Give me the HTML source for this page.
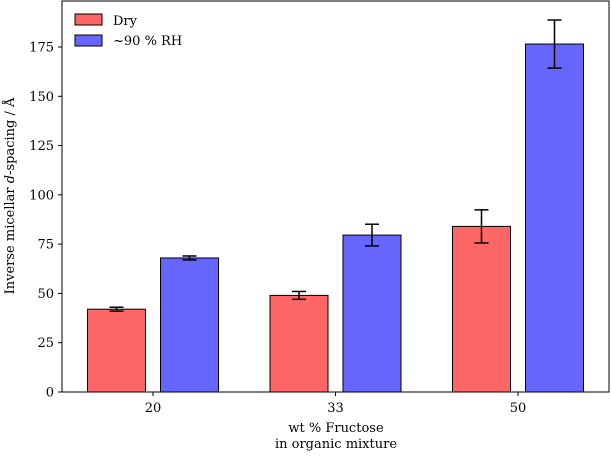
<!DOCTYPE html>
<html><head><meta charset="utf-8"><style>
body{margin:0;background:#fff}
svg text{font-family:"DejaVu Serif","Liberation Serif",serif;font-size:13px;fill:#000}
</style></head><body>
<svg id="chart" width="611" height="451">
<rect x="62" y="1" width="547" height="391" fill="none" stroke="#000" stroke-width="1"/>
<g id="bars"></g><g id="axes"></g>
<g>
<rect x="75" y="14" width="27" height="11" fill="#ff6666" stroke="#000"/>
<text x="113" y="25">Dry</text>
<rect x="75" y="35" width="27" height="11" fill="#6666ff" stroke="#000"/>
<text x="113" y="45">~90 % RH</text>
</g>
<text x="336" y="432" text-anchor="middle">wt % Fructose</text>
<text x="336" y="448" text-anchor="middle">in organic mixture</text>
<text transform="translate(14,196) rotate(-90)" text-anchor="middle">Inverse micellar <tspan font-style="italic">d</tspan>-spacing / Å</text>
</svg>
<script>
const categories=["20","33","50"];
const dryValues=[42,49,84];
const dryErrors=[1,2,8.4];
const rhValues=[68,79.6,176.5];
const rhErrors=[1,5.5,12.2];
const yTicks=[0,25,50,75,100,125,150,175];
const NS="http://www.w3.org/2000/svg";
const y=v=>392-v*1.9714;
const xc=i=>153+182.5*i;
const bw=58,off=36.5;
const bars=document.getElementById('bars'),axes=document.getElementById('axes');
function mk(t,a,p){const e=document.createElementNS(NS,t);for(const k in a)e.setAttribute(k,a[k]);p.appendChild(e);return e;}
function series(vals,errs,dx,color,nm){
vals.forEach((v,i)=>{
const cx=xc(i)+dx;
const r=mk('rect',{x:cx-bw/2,y:y(v),width:bw,height:392-y(v),fill:color,stroke:'#000','stroke-width':1},bars);


const g=mk('g',{stroke:'#000','stroke-width':1.5},bars);


const e=errs[i];
mk('line',{x1:cx,x2:cx,y1:y(v+e),y2:y(v-e)},g);
mk('line',{x1:cx-7,x2:cx+7,y1:y(v+e),y2:y(v+e)},g);
mk('line',{x1:cx-7,x2:cx+7,y1:y(v-e),y2:y(v-e)},g);
});}
series(dryValues,dryErrors,-off,'#ff6666','dry');
series(rhValues,rhErrors,off,'#6666ff','rh');
yTicks.forEach(t=>{
const l=mk('line',{x1:58,x2:62,y1:y(t),y2:y(t),stroke:'#000'},axes);


const tx=mk('text',{x:54,y:y(t)+4.5,'text-anchor':'end'},axes);tx.textContent=t;


});
categories.forEach((c,i)=>{
const l=mk('line',{x1:xc(i),x2:xc(i),y1:392,y2:396,stroke:'#000'},axes);


const tx=mk('text',{x:xc(i),y:412,'text-anchor':'middle'},axes);tx.textContent=c;


});
</script>
</body></html>
